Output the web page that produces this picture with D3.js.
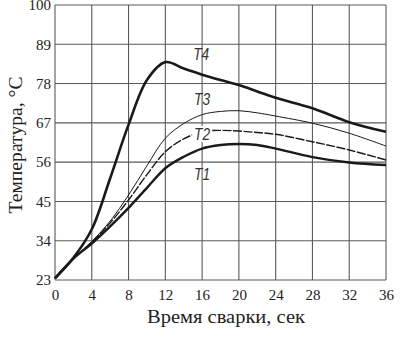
<!DOCTYPE html>
<html>
<head>
<meta charset="utf-8">
<script src="https://cdn.jsdelivr.net/npm/d3@7"></script>
<style>
  body { margin: 0; background: #fff; }
  svg { display: block; }
</style>
</head>
<body>
<svg width="407" height="348"></svg>
<script>
  var times = [0, 2, 4, 6, 8, 10, 12, 14, 16, 18, 20, 22, 24, 28, 32, 36];
  var t4 = [23.5, 29.2, 37.2, 51.5, 66.5, 79, 84, 82.2, 80.5, 79, 77.6, 75.8, 74, 71.1, 67.2, 64.5];
  var t3 = [23.5, 29, 33.8, 39.5, 46.8, 55, 62.7, 66.8, 69.3, 70.2, 70.4, 69.8, 68.9, 66.9, 64.1, 60.5];
  var t2 = [23.5, 29, 33.6, 39, 45.4, 52.5, 58.9, 62.5, 64.5, 64.9, 64.7, 64.3, 63.8, 61.7, 59.4, 56.6];
  var t1 = [23.5, 29, 33.2, 38, 43.2, 48.8, 54.3, 57.5, 59.8, 60.8, 61.1, 60.8, 59.8, 57.4, 55.9, 55.2];

  var xTicks = [0, 4, 8, 12, 16, 20, 24, 28, 32, 36];
  var yTicks = [23, 34, 45, 56, 67, 78, 89, 100];

  var seriesNames = ["T1", "T2", "T3", "T4"];
  var labelTimes = [16, 16, 16, 15.9];
  var labelValues = [51, 62.2, 72, 84.6];

  (function () {
    var svg = d3.select("svg");
    var plotLeft = 55, plotRight = 386, plotTop = 5, plotBottom = 280;

    var x = d3.scaleLinear().domain([0, 36]).range([plotLeft, plotRight]);
    var y = d3.scaleLinear().domain([23, 100]).range([plotBottom, plotTop]);

    // grid
    var grid = svg.append("g").attr("stroke", "#5a5a5a").attr("stroke-width", 1.1);
    grid.selectAll("line.v").data(xTicks).enter().append("line")
      .attr("class", "v")
      .attr("x1", function (d) { return x(d); })
      .attr("x2", function (d) { return x(d); })
      .attr("y1", plotTop).attr("y2", plotBottom);
    grid.selectAll("line.h").data(yTicks).enter().append("line")
      .attr("class", "h")
      .attr("y1", function (d) { return y(d); })
      .attr("y2", function (d) { return y(d); })
      .attr("x1", plotLeft).attr("x2", plotRight);

    // axes (labels only)
    var xAxis = svg.append("g")
      .attr("transform", "translate(0," + plotBottom + ")")
      .call(d3.axisBottom(x).tickValues(xTicks).tickSize(0).tickPadding(9));
    var yAxis = svg.append("g")
      .attr("transform", "translate(" + plotLeft + ",0)")
      .call(d3.axisLeft(y).tickValues(yTicks).tickSize(0).tickPadding(4));
    [xAxis, yAxis].forEach(function (a) {
      a.select(".domain").remove();
      a.selectAll("text")
        .attr("font-family", "Liberation Serif, serif")
        .attr("font-size", 15)
        .attr("fill", "#222");
    });

    var line = d3.line()
      .x(function (d, i) { return x(times[i]); })
      .y(function (d) { return y(d); })
      .curve(d3.curveCatmullRom.alpha(0.5));

    var curves = svg.append("g").attr("fill", "none").attr("stroke", "#1a1a1a");
    curves.append("path").attr("d", line(t1)).attr("stroke-width", 2.4);
    curves.append("path").attr("d", line(t2)).attr("stroke-width", 1.4)
      .attr("stroke-dasharray", "9,1.5");
    curves.append("path").attr("d", line(t3)).attr("stroke-width", 1);
    curves.append("path").attr("d", line(t4)).attr("stroke-width", 2.6);

    // series labels
    var labels = svg.append("g");
    seriesNames.forEach(function (name, i) {
      var lx = x(labelTimes[i]), ly = y(labelValues[i]);
      if (i === 1) {
        labels.append("rect")
          .attr("x", lx - 10).attr("y", ly - 14)
          .attr("width", 20).attr("height", 16)
          .attr("fill", "#fff");
      }
      labels.append("text")
        .attr("x", lx).attr("y", ly)
        .attr("text-anchor", "middle")
        .attr("font-family", "Liberation Sans, sans-serif")
        .attr("font-style", "italic")
        .attr("font-size", 17)
        .attr("textLength", 16)
        .attr("lengthAdjust", "spacingAndGlyphs")
        .attr("fill", "#333")
        .text(name);
    });

    // titles
    svg.append("text")
      .attr("x", 226).attr("y", 323)
      .attr("text-anchor", "middle")
      .attr("font-family", "Liberation Serif, serif")
      .attr("font-size", 18)
      .attr("textLength", 158)
      .attr("lengthAdjust", "spacingAndGlyphs")
      .attr("fill", "#222")
      .text("Время сварки, сек");

    svg.append("text")
      .attr("transform", "translate(22,145) rotate(-90)")
      .attr("text-anchor", "middle")
      .attr("font-family", "Liberation Serif, serif")
      .attr("font-size", 19)
      .attr("textLength", 137)
      .attr("lengthAdjust", "spacingAndGlyphs")
      .attr("fill", "#222")
      .text("Температура, °С");
  })();
</script>
</body>
</html>
